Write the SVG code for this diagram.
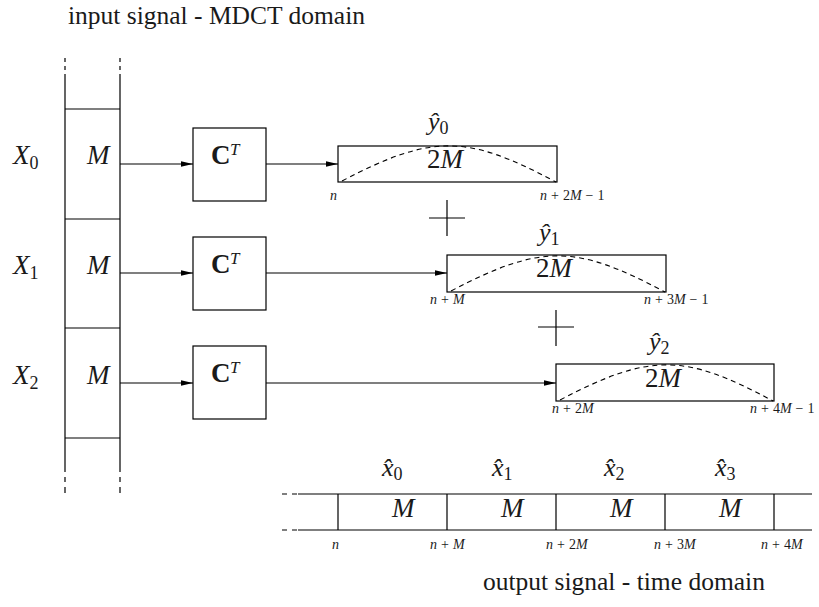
<svg xmlns="http://www.w3.org/2000/svg" width="819" height="607" viewBox="0 0 819 607">
<style>
.ln{stroke:#000;stroke-width:1.2;fill:none}
.box{stroke:#000;stroke-width:1.2;fill:#fff}
.dsh{stroke:#000;stroke-width:1.1;fill:none;stroke-dasharray:5 4}
text{font-family:'Liberation Serif','Times New Roman','DejaVu Serif',serif;fill:#1a1a1a}
.mi{font-style:italic}
.bf{font-weight:bold}
.lbl{font-size:25.5px}
.sm{font-size:14px}
.up{font-style:normal}
</style>
<defs>
<marker id="ah" markerWidth="12" markerHeight="8" refX="12" refY="4" orient="auto" markerUnits="userSpaceOnUse">
<path d="M0,1.2 L12,4 L0,6.8 Z" fill="#000"/>
</marker>
</defs>

<text class="lbl" x="68" y="24">input signal - MDCT domain</text>
<text class="lbl" x="483" y="590">output signal - time domain</text>

<g id="input-column">
<path class="ln" d="M65,58 V62 M65,66 V70 M65,74 V472 M65,477 V482 M65,487 V493"/>
<path class="ln" d="M120,58 V62 M120,66 V70 M120,74 V472 M120,477 V482 M120,487 V493"/>
<path class="ln" d="M65,109 H120 M65,219 H120 M65,328 H120 M65,438 H120"/>
</g>

<g id="X0">
<text class="mi" x="13" y="164" font-size="27">X<tspan class="up" font-size="18" dy="5">0</tspan></text>
<text class="mi" x="87" y="164" font-size="27">M</text>
</g>
<g id="X1">
<text class="mi" x="13" y="274" font-size="27">X<tspan class="up" font-size="18" dy="5">1</tspan></text>
<text class="mi" x="87" y="274" font-size="27">M</text>
</g>
<g id="X2">
<text class="mi" x="13" y="384" font-size="27">X<tspan class="up" font-size="18" dy="5">2</tspan></text>
<text class="mi" x="87" y="384" font-size="27">M</text>
</g>

<g id="CT0">
<rect class="box" x="193" y="128" width="73" height="73"/>
<text class="bf" x="211" y="164" font-size="27">C</text>
<text class="mi" x="230" y="155" font-size="17">T</text>
</g>
<g id="CT1">
<rect class="box" x="193" y="237" width="73" height="73"/>
<text class="bf" x="211" y="273" font-size="27">C</text>
<text class="mi" x="230" y="264" font-size="17">T</text>
</g>
<g id="CT2">
<rect class="box" x="193" y="346" width="73" height="73"/>
<text class="bf" x="211" y="382" font-size="27">C</text>
<text class="mi" x="230" y="373" font-size="17">T</text>
</g>

<g id="y0">
<rect class="box" x="338" y="146" width="219" height="36"/>
<path class="dsh" d="M342,181 C432,134 466,134 556,182"/>
<text class="mi" x="428" y="130" font-size="26">ŷ<tspan class="up" font-size="18" dy="4">0</tspan></text>
<text class="mi" x="427" y="168" font-size="27"><tspan class="up">2</tspan>M</text>
<text class="mi sm" x="330" y="200">n</text>
<text class="mi sm" x="540" y="200">n<tspan class="up" dx="4">+</tspan><tspan class="up" dx="4">2</tspan>M<tspan class="up" dx="4">−</tspan><tspan class="up" dx="4">1</tspan></text>
</g>
<g id="y1">
<rect class="box" x="447" y="255" width="219" height="37"/>
<path class="dsh" d="M451,291 C541,244 575,244 665,292"/>
<text class="mi" x="539" y="241" font-size="26">ŷ<tspan class="up" font-size="18" dy="4">1</tspan></text>
<text class="mi" x="536" y="277" font-size="27"><tspan class="up">2</tspan>M</text>
<text class="mi sm" x="430" y="304">n<tspan class="up" dx="4">+</tspan><tspan dx="4">M</tspan></text>
<text class="mi sm" x="644" y="304">n<tspan class="up" dx="4">+</tspan><tspan class="up" dx="4">3</tspan>M<tspan class="up" dx="4">−</tspan><tspan class="up" dx="4">1</tspan></text>
</g>
<g id="y2">
<rect class="box" x="556" y="364" width="218" height="37"/>
<path class="dsh" d="M560,400 C650,353 684,353 773,401"/>
<text class="mi" x="649" y="350" font-size="26">ŷ<tspan class="up" font-size="18" dy="4">2</tspan></text>
<text class="mi" x="645" y="387" font-size="27"><tspan class="up">2</tspan>M</text>
<text class="mi sm" x="552" y="413">n<tspan class="up" dx="4">+</tspan><tspan class="up" dx="4">2</tspan>M</text>
<text class="mi sm" x="750" y="413">n<tspan class="up" dx="4">+</tspan><tspan class="up" dx="4">4</tspan>M<tspan class="up" dx="4">−</tspan><tspan class="up" dx="4">1</tspan></text>
</g>

<g id="plus1"><path class="ln" d="M429,218 H465 M447,200 V236"/></g>
<g id="plus2"><path class="ln" d="M538,327 H574 M556,310 V346"/></g>

<g id="output">
<path class="ln" d="M282,494 H287 M292,494 H297 M298,494 H812 M282,530 H287 M292,530 H297 M298,530 H812"/>
<path class="ln" d="M338,494 V530 M447,494 V530 M556,494 V530 M665,494 V530 M774,494 V530"/>
<text class="mi" x="392" y="517" font-size="27">M</text>
<text class="mi" x="501" y="517" font-size="27">M</text>
<text class="mi" x="610" y="517" font-size="27">M</text>
<text class="mi" x="719" y="517" font-size="27">M</text>
<text class="mi" x="382" y="476" font-size="26">x̂<tspan class="up" font-size="18" dy="4">0</tspan></text>
<text class="mi" x="492" y="476" font-size="26">x̂<tspan class="up" font-size="18" dy="4">1</tspan></text>
<text class="mi" x="604" y="476" font-size="26">x̂<tspan class="up" font-size="18" dy="4">2</tspan></text>
<text class="mi" x="715" y="476" font-size="26">x̂<tspan class="up" font-size="18" dy="4">3</tspan></text>
<text class="mi sm" x="332" y="549">n</text>
<text class="mi sm" x="430" y="549">n<tspan class="up" dx="4">+</tspan><tspan dx="4">M</tspan></text>
<text class="mi sm" x="546" y="549">n<tspan class="up" dx="4">+</tspan><tspan class="up" dx="4">2</tspan>M</text>
<text class="mi sm" x="654" y="549">n<tspan class="up" dx="4">+</tspan><tspan class="up" dx="4">3</tspan>M</text>
<text class="mi sm" x="761" y="549">n<tspan class="up" dx="4">+</tspan><tspan class="up" dx="4">4</tspan>M</text>
</g>

<g id="connectors">
<path class="ln" d="M120,164 H193" marker-end="url(#ah)"/>
<path class="ln" d="M120,273 H193" marker-end="url(#ah)"/>
<path class="ln" d="M120,383 H193" marker-end="url(#ah)"/>
<path class="ln" d="M266,164 H338" marker-end="url(#ah)"/>
<path class="ln" d="M266,273 H447" marker-end="url(#ah)"/>
<path class="ln" d="M266,383 H556" marker-end="url(#ah)"/>
</g>
</svg>
